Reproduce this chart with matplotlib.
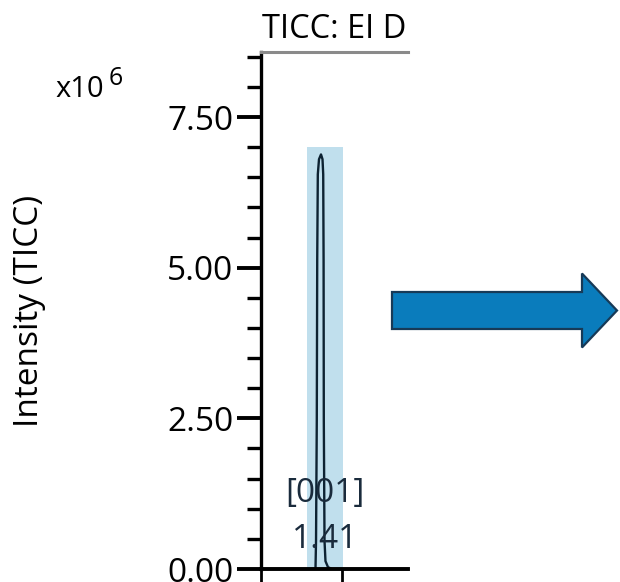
import matplotlib
matplotlib.use('Agg')
import matplotlib.pyplot as plt
from matplotlib.patches import FancyArrow
from matplotlib.ticker import MultipleLocator

plt.rcParams['font.family'] = ['Open Sans', 'DejaVu Sans']

# chromatogram trace (retention time in min, intensity x10^6)
rt = [1.3000, 1.3900, 1.4009, 1.4019, 1.4033, 1.4041, 1.4052, 1.4074, 1.4111,
      1.4139, 1.4152, 1.4159, 1.4163, 1.4176, 1.4194, 1.4241, 1.4315, 1.5722]
intensity = [0.0, 0.0, 0.0, 0.47, 2.47, 5.13, 6.55, 6.80, 6.88,
             6.80, 6.55, 5.13, 2.47, 0.47, 0.13, 0.03, 0.0, 0.0]

# integrated peak window
band_start, band_end, band_top = 1.385, 1.452, 7.0
peak_id = '[001]'
peak_rt = 1.41

yticks = [0.0, 2.5, 5.0, 7.5]
xticks = [1.30, 1.45]

fig = plt.figure(figsize=(6.2, 5.82), dpi=100)
ax = fig.add_axes([261 / 620, 1 - 569 / 582, 147 / 620, 517 / 582])

ax.fill_between([band_start, band_end], 0, band_top, color='#c0dfed', lw=0)
ax.plot(rt, intensity, color='#0c2232', lw=1.7)

ax.set_xlim(1.30, 1.5722)
ax.set_ylim(0, 8.58)

ax.set_yticks(yticks)
ax.set_yticklabels(['%.2f' % v for v in yticks])
ax.yaxis.set_minor_locator(MultipleLocator(0.5))
ax.set_xticks(xticks)
ax.set_xticklabels([])

ax.tick_params(axis='y', which='major', length=17, width=2.8, pad=3,
               labelsize=24, colors='black')
ax.tick_params(axis='y', which='minor', length=10, width=2.4)
ax.tick_params(axis='x', which='major', length=12, width=2.0)

ax.spines['right'].set_visible(False)
ax.spines['top'].set_color('#8a8a8a')
ax.spines['top'].set_linewidth(2.2)
ax.spines['left'].set_linewidth(2.4)
ax.spines['bottom'].set_linewidth(2.8)

# peak label sits a bit right of the apex
ax.text(peak_rt + 0.008, 0.35, peak_id + '\n%.2f' % peak_rt, ha='center', va='baseline',
        fontsize=24, color='#1a2b3c', linespacing=1.5)

ax.text(0.005, 1.027, 'TICC: EI D', transform=ax.transAxes, ha='left', va='baseline',
        fontsize=23.5, color='black')

fig.text(30 / 620, 1 - 311 / 582, 'Intensity (TICC)', rotation=90, ha='center',
         va='center', fontsize=24)
fig.text(55 / 620, 1 - 97 / 582, 'x10', fontsize=21, ha='left', va='baseline')
fig.text(109 / 620, 1 - 85 / 582, '6', fontsize=18, ha='left', va='baseline')

arrow = FancyArrow(392 / 620, 1 - 310.5 / 582, 225 / 620, 0, width=37 / 582,
                   head_width=74 / 582, head_length=35 / 620, length_includes_head=True,
                   transform=fig.transFigure, facecolor='#0a7cbc', edgecolor='#173a57',
                   lw=1.6)
fig.patches.append(arrow)

plt.savefig('out.png', dpi=100)
